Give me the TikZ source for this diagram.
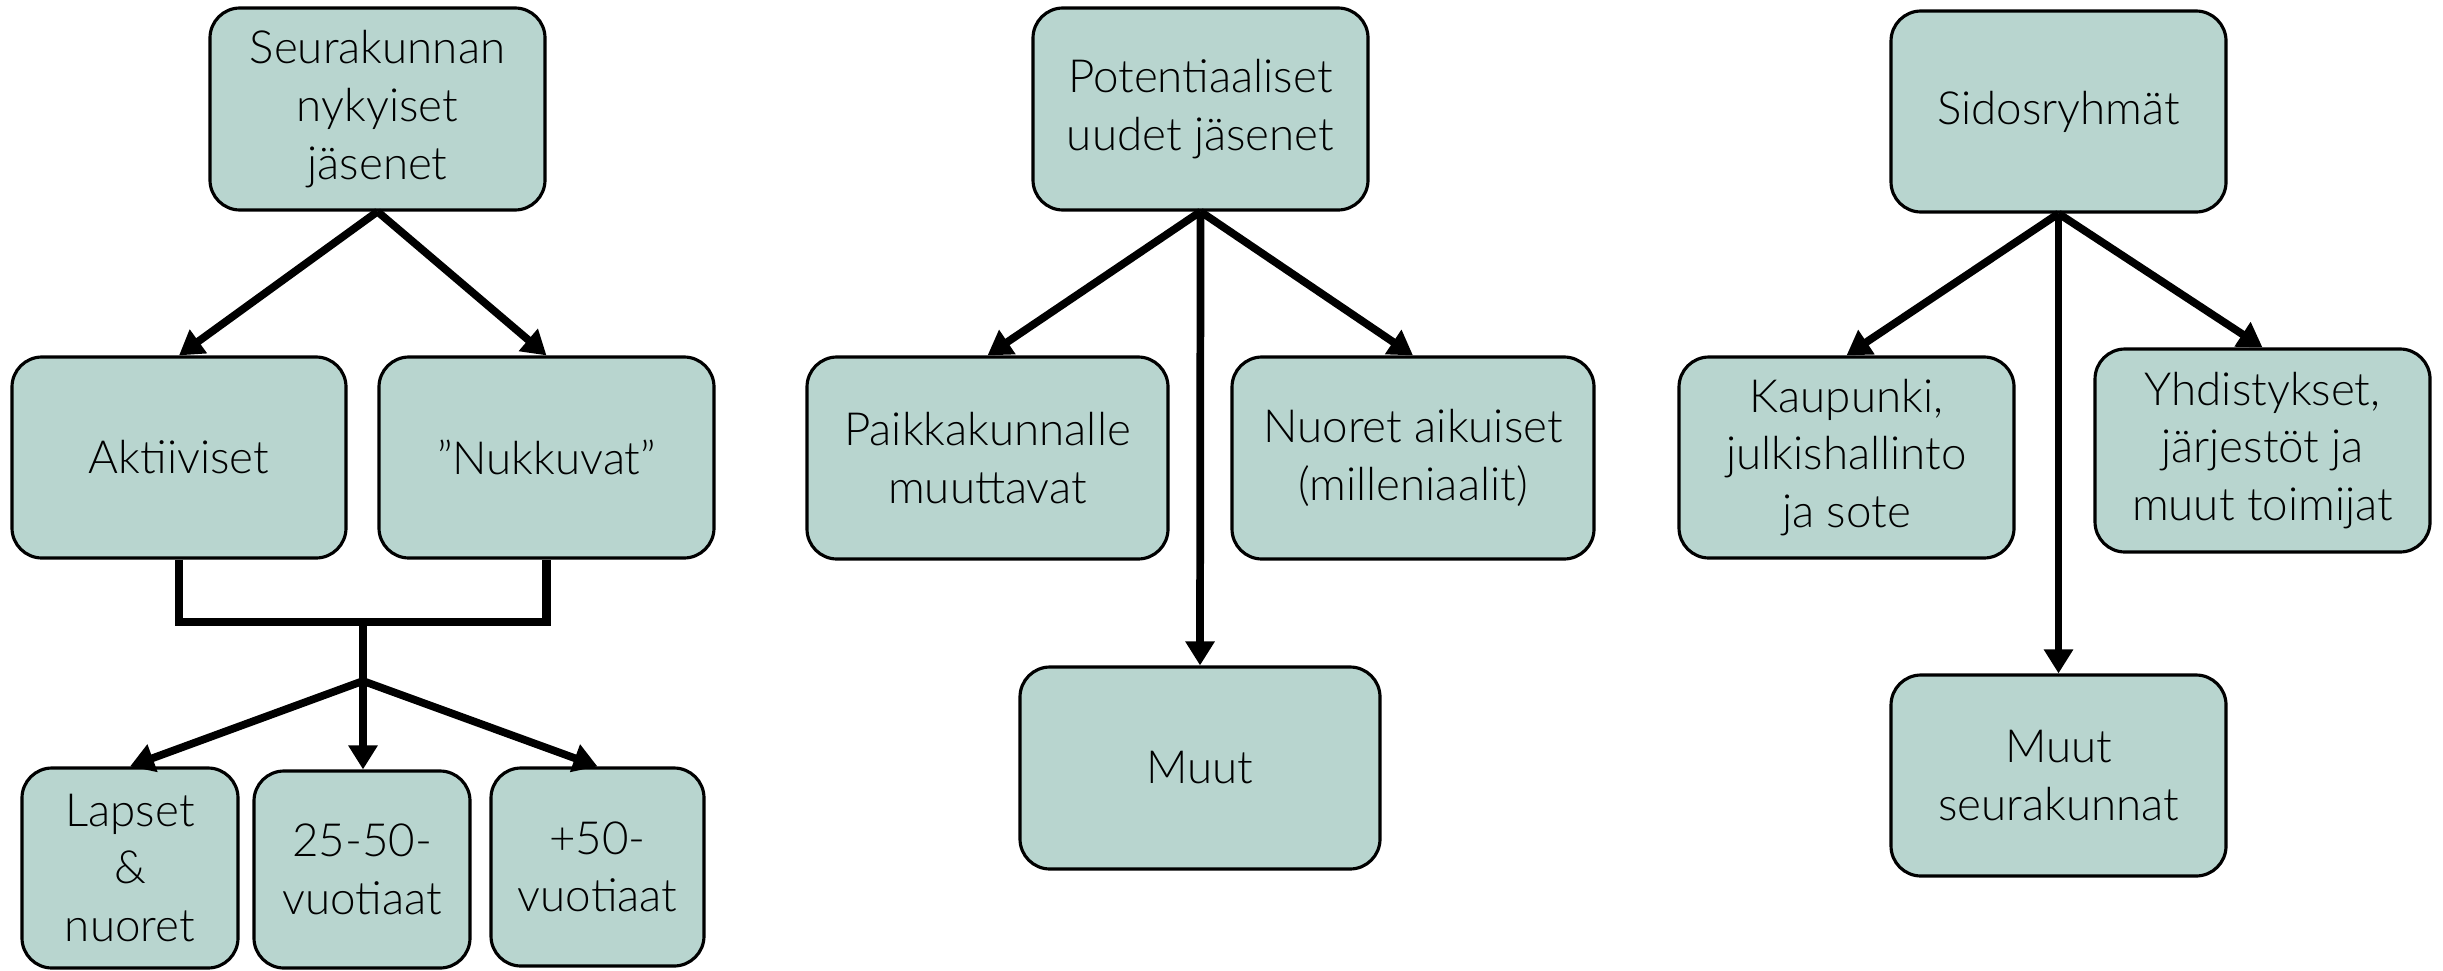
\documentclass[tikz,border=0pt]{standalone}
\usepackage{fontspec}
\setmainfont{Lato}[UprightFont=* Light]
\usetikzlibrary{arrows.meta}
\definecolor{boxfill}{HTML}{B8D5CF}

\begin{document}
\begin{tikzpicture}[
		grp/.style={draw,rectangle,rounded corners=0.3cm,fill=boxfill,line width=0.9pt,align=center,inner sep=0pt,font=\fontsize{13}{16.4}\selectfont},
		link/.style={line width=2.2pt,-{Triangle[length=0.24cm,width=0.28cm]}}]
		\useasboundingbox (0,0) rectangle (24.43,-9.70);
		% members of the parish
		\node[grp,minimum width=3.35cm,minimum height=2.02cm] (CUR) at (3.775,-1.09) {Seurakunnan\\nykyiset\\jäsenet};
		\node[grp,minimum width=3.34cm,minimum height=2.01cm] (ACT) at (1.79,-4.575) {Aktiiviset};
		\node[grp,minimum width=3.35cm,minimum height=2.01cm] (NUK) at (5.465,-4.575) {”Nukkuvat”};
		\node[grp,minimum width=2.16cm,minimum height=2.00cm] (KID) at (1.30,-8.68) {Lapset\\\&\\nuoret};
		\node[grp,minimum width=2.16cm,minimum height=1.97cm] (MID) at (3.62,-8.695) {25-50-\\vuotiaat};
		\node[grp,minimum width=2.13cm,minimum height=1.98cm] (OLD) at (5.975,-8.67) {+50-\\vuotiaat};
		\coordinate (J) at (3.63,-6.22);
		\coordinate (S) at (3.63,-6.81);
		\draw[link] (CUR.south) -- (ACT.north);
		\draw[link] (CUR.south) -- (NUK.north);
		\draw[line width=2.4pt] (ACT.south) |- (J) -| (NUK.south);
		\draw[line width=2.2pt] (J) -- (S);
		\draw[link] (S) -- (KID.north);
		\draw[link] (S) -- (S |- MID.north);
		\draw[link] (S) -- (OLD.north);
		% potential new members
		\node[grp,minimum width=3.35cm,minimum height=2.02cm] (POT) at (12.005,-1.09) {Potentiaaliset\\uudet jäsenet};
		\node[grp,minimum width=3.61cm,minimum height=2.02cm] (MOV) at (9.875,-4.58) {Paikkakunnalle\\muuttavat};
		\node[grp,minimum width=3.62cm,minimum height=2.02cm] (YNG) at (14.13,-4.58) {Nuoret aikuiset\\(milleniaalit)};
		\node[grp,minimum width=3.60cm,minimum height=2.02cm] (OTH) at (12.00,-7.68) {Muut};
		\draw[link] (POT.south) -- (MOV.north);
		\draw[link] (POT.south) -- (OTH.north);
		\draw[link] (POT.south) -- (YNG.north);
		% stakeholders
		\node[grp,minimum width=3.35cm,minimum height=2.01cm] (STK) at (20.585,-1.115) {Sidosryhmät};
		\node[grp,minimum width=3.35cm,minimum height=2.01cm] (CTY) at (18.465,-4.575) {Kaupunki,\\julkishallinto\\ja sote};
		\node[grp,minimum width=3.35cm,minimum height=2.03cm] (ASC) at (22.625,-4.505) {Yhdistykset,\\järjestöt ja\\muut toimijat};
		\node[grp,minimum width=3.35cm,minimum height=2.01cm] (PAR) at (20.585,-7.755) {Muut\\seurakunnat};
		\draw[link] (STK.south) -- (CTY.north);
		\draw[link] (STK.south) -- (PAR.north);
		\draw[link] (STK.south) -- (ASC.north);
	\end{tikzpicture}
\end{document}
